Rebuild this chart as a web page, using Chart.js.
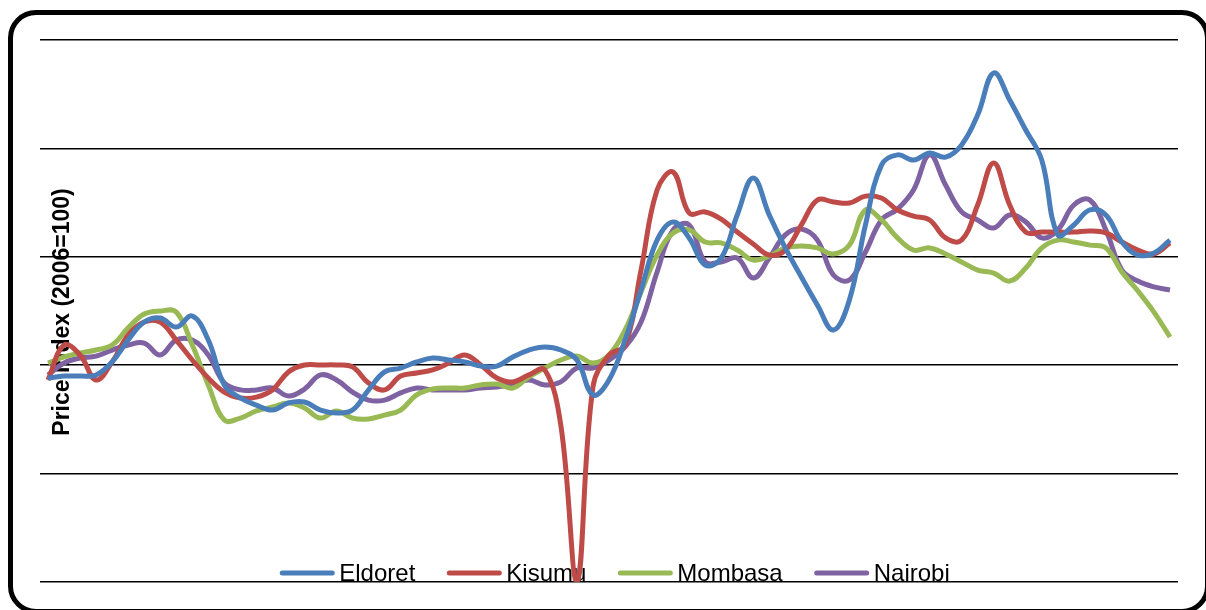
<!DOCTYPE html>
<html>
<head>
<meta charset="utf-8">
<script src="https://cdn.jsdelivr.net/npm/chart.js@4.4.1/dist/chart.umd.min.js"></script>
<style>
  html, body { margin: 0; padding: 0; background: #fff; overflow: hidden; }
  #wrap { position: relative; width: 1206px; height: 610px; }
  #frame {
    position: absolute; left: 8px; top: 10px; width: 1202px; height: 604px;
    box-sizing: border-box; border: 5px solid #000; border-radius: 28px;
  }
  canvas { position: absolute; left: 0; top: 0; }
</style>
</head>
<body>
<div id="wrap">
  <div id="frame"></div>
  <canvas id="chart" width="1206" height="610"></canvas>
</div>
<script>
const Y_TITLE = "Price Index (2006=100)";

const months = [
  "Jan-06", "Feb-06", "Mar-06", "Apr-06", "May-06", "Jun-06", "Jul-06", "Aug-06", "Sep-06", "Oct-06", "Nov-06", "Dec-06",
  "Jan-07", "Feb-07", "Mar-07", "Apr-07", "May-07", "Jun-07", "Jul-07", "Aug-07", "Sep-07", "Oct-07", "Nov-07", "Dec-07",
  "Jan-08", "Feb-08", "Mar-08", "Apr-08", "May-08", "Jun-08", "Jul-08", "Aug-08", "Sep-08", "Oct-08", "Nov-08", "Dec-08",
  "Jan-09", "Feb-09", "Mar-09", "Apr-09", "May-09", "Jun-09", "Jul-09", "Aug-09", "Sep-09", "Oct-09", "Nov-09", "Dec-09",
  "Jan-10", "Feb-10", "Mar-10", "Apr-10", "May-10", "Jun-10", "Jul-10", "Aug-10", "Sep-10", "Oct-10", "Nov-10", "Dec-10",
  "Jan-11", "Feb-11", "Mar-11", "Apr-11", "May-11", "Jun-11", "Jul-11", "Aug-11", "Sep-11", "Oct-11", "Nov-11"
];

const seriesNames = ["Eldoret", "Kisumu", "Mombasa", "Nairobi"];
const seriesColors = ["#4A7EBB", "#BE4B48", "#98B954", "#7E62A1"];

const eldoret = [
  94.1, 95.0, 95.0, 95.5, 101.5, 111.6, 119.9, 121.8, 117.6, 122.7,
  111.6, 90.9, 84.9, 81.6, 79.3, 82.6, 83.0, 79.3, 78.0, 79.3,
  88.6, 96.9, 98.7, 101.5, 103.3, 102.4, 101.5, 99.6, 99.6, 103.8,
  107.0, 108.4, 107.0, 102.4, 86.3, 93.2, 111.6, 134.7, 157.7, 166.1,
  158.7, 146.2, 149.4, 169.3, 186.3, 169.3, 154.1, 140.7, 127.8, 116.2,
  130.1, 164.7, 192.3, 197.0, 194.6, 197.9, 196.0, 201.6, 215.4, 234.8,
  222.3, 208.5, 194.6, 160.1, 164.7, 171.6, 169.3, 156.8, 150.8, 151.8, 157.7
];

const kisumu = [
  93.2, 109.3, 104.7, 93.2, 101.5, 113.9, 119.9, 119.9, 111.6, 102.4,
  94.1, 87.6, 84.9, 85.3, 88.6, 96.9, 100.1, 100.1, 100.1, 99.2,
  91.8, 88.6, 95.0, 96.4, 97.8, 101.0, 104.7, 100.1, 94.1, 92.3,
  95.5, 97.8, 72.0, 0.0, 90.0, 104.7, 109.3, 143.9, 180.8, 189.1,
  170.2, 170.7, 167.4, 161.4, 155.9, 150.8, 153.1, 164.7, 176.2, 175.3,
  174.8, 178.0, 177.1, 171.6, 168.8, 167.0, 158.7, 157.7, 173.9, 193.3,
  173.9, 161.4, 161.4, 161.4, 161.4, 161.9, 161.0, 156.8, 153.1, 151.3, 156.4
];

const mombasa = [
  101.0, 103.8, 105.6, 107.0, 109.3, 117.2, 123.6, 125.0, 124.5, 109.3,
  90.9, 74.7, 75.6, 78.9, 80.7, 82.6, 80.3, 75.6, 78.9, 75.6,
  75.2, 77.0, 79.3, 86.3, 89.0, 89.5, 89.5, 90.9, 91.3, 89.5,
  94.6, 98.7, 102.4, 104.2, 101.0, 104.7, 116.2, 133.8, 150.8, 161.0,
  162.4, 156.8, 156.4, 153.1, 148.5, 150.4, 154.1, 155.0, 154.1, 151.3,
  155.4, 171.6, 167.0, 158.7, 153.1, 154.1, 151.3, 147.6, 143.9, 142.5,
  138.8, 144.8, 154.1, 157.7, 156.8, 155.4, 154.1, 143.0, 134.2, 124.5, 113.0
];

const nairobi = [
  95.5, 101.0, 103.3, 104.2, 107.0, 109.3, 110.2, 104.7, 111.6, 111.6,
  104.7, 91.8, 88.6, 88.6, 89.5, 85.8, 89.0, 95.5, 93.2, 87.6,
  83.9, 83.9, 87.2, 89.5, 88.6, 88.6, 88.6, 89.5, 89.9, 91.3,
  93.2, 90.9, 92.3, 98.7, 98.7, 102.4, 108.4, 119.9, 143.0, 162.4,
  164.7, 147.6, 147.6, 149.4, 140.2, 149.4, 160.1, 162.8, 157.7, 141.6,
  139.3, 152.2, 167.0, 172.0, 180.8, 197.0, 183.1, 170.7, 167.0, 163.3,
  169.3, 166.1, 158.7, 162.4, 173.9, 176.2, 162.4, 143.9, 138.8, 136.1, 134.7
];

const seriesValues = [eldoret, kisumu, mombasa, nairobi];

const FONT = "'Liberation Sans', Arial, sans-serif";

// axis title and legend sit inside the plot, under the lines
const overlayText = {
  id: "overlayText",
  beforeDatasetsDraw(chart) {
    const ctx = chart.ctx;
    const area = chart.chartArea;

    ctx.save();
    ctx.translate(69, 312);
    ctx.rotate(-Math.PI / 2);
    ctx.font = "bold 23px " + FONT;
    ctx.fillStyle = "#000";
    ctx.textAlign = "center";
    ctx.textBaseline = "alphabetic";
    ctx.fillText(Y_TITLE, 0, 0);
    ctx.restore();

    ctx.save();
    ctx.font = "24px " + FONT;
    ctx.textBaseline = "alphabetic";
    ctx.textAlign = "left";
    const lineLen = 54;
    const gap = 5;
    const spacing = 32;
    const widths = chart.data.datasets.map((ds) => ctx.measureText(ds.label).width);
    const total = widths.reduce((s, w) => s + lineLen + gap + w, 0) + spacing * (widths.length - 1);
    let x = (area.left + area.right) / 2 + 6 - total / 2;
    const lineY = 573;
    const textY = 581;
    chart.data.datasets.forEach((ds, i) => {
      ctx.strokeStyle = ds.borderColor;
      ctx.lineWidth = 5;
      ctx.lineCap = "round";
      ctx.beginPath();
      ctx.moveTo(x + 2, lineY);
      ctx.lineTo(x + lineLen - 2, lineY);
      ctx.stroke();
      ctx.fillStyle = "#000";
      ctx.fillText(ds.label, x + lineLen + gap, textY);
      x += lineLen + gap + widths[i] + spacing;
    });
    ctx.restore();
  }
};

const datasets = seriesNames.map((name, i) => ({
  label: name,
  data: seriesValues[i],
  borderColor: seriesColors[i],
  backgroundColor: seriesColors[i],
  borderWidth: 5,
  pointRadius: 0,
  tension: 0.4,
  fill: false
}));

new Chart(document.getElementById("chart"), {
  type: "line",
  data: { labels: months, datasets },
  options: {
    responsive: false,
    animation: false,
    layout: { padding: { left: 40, right: 28, top: 40, bottom: 28 } },
    scales: {
      x: {
        display: false,
        offset: true
      },
      y: {
        min: 0,
        max: 250,
        ticks: { display: false, stepSize: 50 },
        border: { display: false },
        grid: { color: "#000", lineWidth: 1.6, drawTicks: false }
      }
    },
    plugins: {
      legend: { display: false },
      tooltip: { enabled: false }
    }
  },
  plugins: [overlayText]
});
</script>
</body>
</html>
